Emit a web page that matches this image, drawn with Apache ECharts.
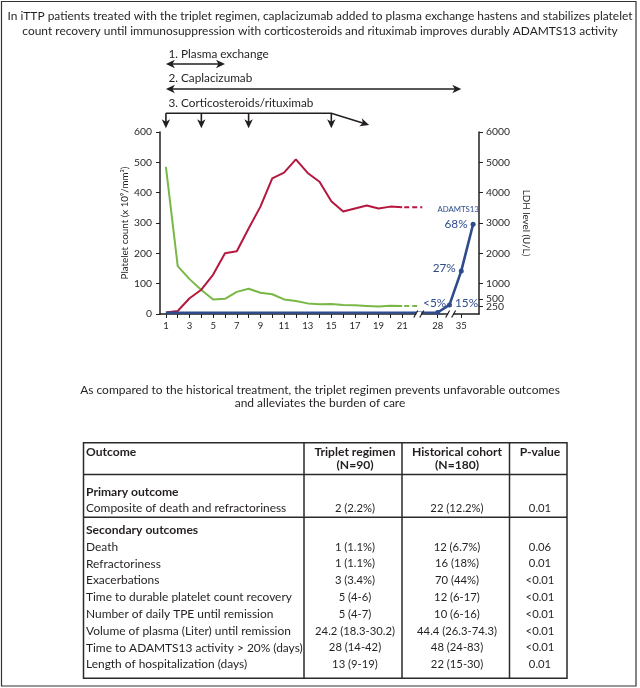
<!DOCTYPE html>
<html><head><meta charset="utf-8">
<script src="https://cdn.jsdelivr.net/npm/echarts@6/dist/echarts.min.js"></script>
<style>html,body{margin:0;padding:0;background:#fff}#c{width:640px;height:688px}</style>
</head><body><div id="c"></div>
<script>
// ---------------- data ----------------
const titleLines = [
  'In iTTP patients treated with the triplet regimen, caplacizumab added to plasma exchange hastens and stabilizes platelet',
  'count recovery until immunosuppression with corticosteroids and rituximab improves durably ADAMTS13 activity'
];
const subtitleLines = [
  'As compared to the historical treatment, the triplet regimen prevents unfavorable outcomes',
  'and alleviates the burden of care'
];
const days = [1,2,3,4,5,6,7,8,9,10,11,12,13,14,15,16,17,18,19,20,21];
const platelets = [5,10,52,80,130,200,207,282,354,447,466,510,465,436,372,338,348,358,348,354,352];
const ldh = [4850,1580,1150,790,480,500,730,830,700,650,480,430,350,320,330,300,285,265,245,270,265];
const xLabelDays = [1,3,5,7,9,11,13,15,17,19,21];
const lateTickLabels = ['28','35'];
const lateTickPos = [24,26];
const breakPos = [22.4,25.1];
const dashEnd = [22.7,22.3];          // end of dashed continuation (platelets, LDH)
const adamtsBase = 4;
const adamtsPos = [24,25,26,27];
const adamtsVals = [5,30,142,296];
const adamtsLabels = ['<5%','15%','27%','68%'];
const leftTicks = [0,100,200,300,400,500,600];
const rightTicks = [250,500,1000,2000,3000,4000,5000,6000];
const treatLabels = ['1. Plasma exchange','2. Caplacizumab','3. Corticosteroids/rituximab'];
const treatFrom = [1,1,1];
const treatTo = [6,26,15];
const steroidDoses = [1,4,8,15];
const steroidTaperTo = 18.2;
const tableHead = ['Outcome','Triplet regimen','Historical cohort','P-value'];
const tableHeadSub = ['','(N=90)','(N=180)',''];
const sectionTitles = ['Primary outcome','Secondary outcomes'];
const primaryRows = [['Composite of death and refractoriness','2 (2.2%)','22 (12.2%)','0.01']];
const secondaryRows = [
  ['Death','1 (1.1%)','12 (6.7%)','0.06'],
  ['Refractoriness','1 (1.1%)','16 (18%)','0.01'],
  ['Exacerbations','3 (3.4%)','70 (44%)','<0.01'],
  ['Time to durable platelet count recovery','5 (4-6)','12 (6-17)','<0.01'],
  ['Number of daily TPE until remission','5 (4-7)','10 (6-16)','<0.01'],
  ['Volume of plasma (Liter) until remission','24.2 (18.3-30.2)','44.4 (26.3-74.3)','<0.01'],
  ['Time to ADAMTS13 activity > 20% (days)','28 (14-42)','48 (24-83)','<0.01'],
  ['Length of hospitalization (days)','13 (9-19)','22 (15-30)','0.01']
];

// ---------------- style ----------------
const FONT = "Lato, 'DejaVu Sans', sans-serif";
const RED = '#b5173f', GREEN = '#79b846', BLUE = '#2e4c8b', INK = '#231f20';
const mctx = document.createElement('canvas').getContext('2d');
function fit(text, target, weight) {
  mctx.font = (weight || 'normal') + ' 100px Lato';
  return +(100 * target / mctx.measureText(text).width).toFixed(2);
}
const fsTitle = fit(titleLines[0], 625);
const fsSub = fit(subtitleLines[0], 480);
const fsArrow = fit(treatLabels[2], 145);
const fsBody = fit(secondaryRows[3][0], 206);
const fsVal = fit(secondaryRows[5][2], 80);
const fsHead = fit(tableHead[2], 90, 'bold');
const fsAxis = fit('6000', 24);
const fsName = fit('Platelet count (x 10⁹/mm³)', 113);

const xLabelMap = {};
xLabelDays.forEach(d => xLabelMap[d] = String(d));
lateTickPos.forEach((p, i) => xLabelMap[p] = lateTickLabels[i]);

// right axis ticks are split over two overlaid axes so that the tightly packed 250/500 labels both show
const rightMain = rightTicks.filter(v => v !== 500);
const rightExtra = rightTicks.filter(v => v === 500);
const rightAxisBase = {
  type: 'value', min: 0, max: 6000, position: 'right',
  axisLine: {show: true, lineStyle: {color: INK, width: 1.5}},
  axisTick: {show: true, length: 4, lineStyle: {color: INK}},
  axisLabel: {formatter: v => String(v), showMinLabel: true, showMaxLabel: true,
    fontFamily: FONT, fontSize: fsAxis, color: INK, margin: 7, hideOverlap: false},
  splitLine: {show: false}
};

const chart = echarts.init(document.getElementById('c'));
chart.setOption({
  animation: false,
  grid: {left: 160, top: 132, width: 319, height: 182},
  xAxis: {
    type: 'value', min: 0.5, max: 27.5,
    axisLine: {show: true, lineStyle: {color: INK, width: 1.5}},
    axisTick: {show: true, length: 4, lineStyle: {color: INK, width: 1}, customValues: days.concat(lateTickPos)},
    axisLabel: {customValues: xLabelDays.concat(lateTickPos), formatter: v => xLabelMap[v] || '',
      fontFamily: FONT, fontSize: fsAxis * 0.92, color: INK, margin: 7},
    splitLine: {show: false}
  },
  yAxis: [{
    type: 'value', min: 0, max: 600, interval: 100, position: 'left',
    name: 'Platelet count (x 10⁹/mm³)', nameLocation: 'middle', nameGap: 30,
    nameTextStyle: {fontFamily: FONT, fontSize: fsName, color: INK},
    axisLine: {show: true, lineStyle: {color: INK, width: 1.5}},
    axisTick: {show: true, length: 4, lineStyle: {color: INK}},
    axisLabel: {fontFamily: FONT, fontSize: fsAxis, color: INK, margin: 8},
    splitLine: {show: false}
  }, Object.assign({}, rightAxisBase, {
    name: 'LDH level (U/L)', nameLocation: 'middle', nameGap: 42, nameRotate: -90,
    nameTextStyle: {fontFamily: FONT, fontSize: fsName, color: INK},
    axisTick: Object.assign({}, rightAxisBase.axisTick, {customValues: rightMain}),
    axisLabel: Object.assign({}, rightAxisBase.axisLabel, {customValues: rightMain})
  }), Object.assign({}, rightAxisBase, {
    axisLine: {show: false},
    axisTick: Object.assign({}, rightAxisBase.axisTick, {customValues: rightExtra}),
    axisLabel: Object.assign({}, rightAxisBase.axisLabel, {customValues: rightExtra})
  })],
  series: [
    {type: 'line', yAxisIndex: 0, showSymbol: false, lineStyle: {color: RED, width: 2}, z: 4,
     data: days.map((d, i) => d === 20
       ? {value: [d, platelets[i]], label: {show: true, formatter: 'Platelets', position: 'top', distance: 3,
          color: RED, fontFamily: FONT, fontSize: 8.8}}
       : [d, platelets[i]])},
    {type: 'line', yAxisIndex: 0, showSymbol: false, lineStyle: {color: RED, width: 2, type: [5, 3], dashOffset: -2},
     data: [[days[days.length - 1], platelets[platelets.length - 1]], [dashEnd[0], platelets[platelets.length - 1]]]},
    {type: 'line', yAxisIndex: 1, showSymbol: false, lineStyle: {color: GREEN, width: 2}, z: 3,
     data: days.map((d, i) => d === 20
       ? {value: [d, ldh[i]], label: {show: true, formatter: 'LDH', position: 'top', distance: 5,
          color: GREEN, fontFamily: FONT, fontSize: 8.8}}
       : [d, ldh[i]])},
    {type: 'line', yAxisIndex: 1, showSymbol: false, lineStyle: {color: GREEN, width: 2, type: [5, 3], dashOffset: -2},
     data: [[days[days.length - 1], ldh[ldh.length - 1]], [dashEnd[1], ldh[ldh.length - 1]]]},
    {type: 'line', yAxisIndex: 0, symbol: 'circle', symbolSize: 5, lineStyle: {color: BLUE, width: 2.6},
     itemStyle: {color: BLUE}, z: 5,
     data: [{value: [days[0], adamtsBase], symbol: 'none'}].concat(adamtsPos.map((p, i) => ({
       value: [p, adamtsVals[i]],
       label: {show: true, formatter: adamtsLabels[i], color: BLUE, fontFamily: FONT, fontSize: 11.8,
         position: ['top', 'right', 'left', 'left'][i], distance: 3,
         offset: [[-3, 2], [0, -2], [0, -3], [0, 0]][i]}
     })))}
  ]
});

// ---------------- annotations ----------------
const px = v => chart.convertToPixel({xAxisIndex: 0}, v);
const pyL = v => chart.convertToPixel({yAxisIndex: 0}, v);
const g = [];
function line(x1, y1, x2, y2, w, c) {
  g.push({type: 'line', shape: {x1, y1, x2, y2}, style: {stroke: c || INK, lineWidth: w || 1.6}, z: 100});
}
function head(tx, ty, dx, dy, len, w) {
  len = len || 9; w = w || 4.2;
  const bx = tx - dx * len, by = ty - dy * len, nx = -dy, ny = dx;
  const mx = tx - dx * len * 0.72, my = ty - dy * len * 0.72;
  g.push({type: 'polygon', shape: {points: [[tx, ty], [bx + nx * w, by + ny * w], [mx, my], [bx - nx * w, by - ny * w]]},
    style: {fill: INK}, z: 100});
}
function text(t, x, y, o) {
  o = o || {};
  g.push({type: 'text', x, y, z: 100, style: {text: t, fontFamily: FONT, fontSize: o.size || 12,
    fontWeight: o.weight || 'normal', fill: o.color || INK, align: o.align || 'left', verticalAlign: 'middle'}});
}
// frame
g.push({type: 'rect', shape: {x: 1.5, y: 1.5, width: 634.5, height: 684.5}, style: {fill: 'none', stroke: '#333', lineWidth: 1.2}, z: 90});
// titles
text(titleLines[0], 320, 16, {size: fsTitle, align: 'center'});
text(titleLines[1], 320, 31, {size: fsTitle, align: 'center'});
text(subtitleLines[0], 320, 390, {size: fsSub, align: 'center'});
text(subtitleLines[1], 320, 403.5, {size: fsSub, align: 'center'});
// treatment arrows
const labelY = [54, 78.3, 103.3], arrowY = [64, 89, 113.3];
for (let i = 0; i < 2; i++) {
  const a = px(treatFrom[i]), b = px(treatTo[i]), y = arrowY[i];
  line(a + 5, y, b - 5, y);
  head(a, y, -1, 0);
  head(b, y, 1, 0);
}
treatLabels.forEach((t, i) => text(t, px(treatFrom[i]) + 2.5, labelY[i], {size: fsArrow}));
{
  const y = arrowY[2], xa = px(treatFrom[2]), xb = px(treatTo[2]), xc = px(steroidTaperTo), yc = 125;
  g.push({type: 'polyline', shape: {points: [[xa, y], [xb, y], [xc - 4, yc - 1.2]]}, style: {stroke: INK, lineWidth: 1.6, fill: 'none'}, z: 100});
  const L = Math.hypot(xc - xb, yc - y);
  head(xc, yc, (xc - xb) / L, (yc - y) / L);
  steroidDoses.forEach(d => {
    const x = px(d);
    line(x, y, x, 122);
    head(x, 128.3, 0, 1);
  });
}
// axis breaks
const y0 = pyL(0);
breakPos.forEach(p => {
  const x = px(p);
  g.push({type: 'rect', shape: {x: x - 2.5, y: y0 - 2, width: 5, height: 4}, style: {fill: '#fff'}, z: 99});
  line(x - 5, y0 + 3.5, x - 1, y0 - 3.5, 1.2);
  line(x + 1, y0 + 3.5, x + 5, y0 - 3.5, 1.2);
});
// ADAMTS13 name
{
  const last = adamtsPos.length - 1;
  const [ax, ay] = chart.convertToPixel({xAxisIndex: 0, yAxisIndex: 0}, [adamtsPos[last], adamtsVals[last]]);
  text('ADAMTS13', ax - 15, ay - 15, {size: 7.8, color: BLUE, align: 'center'});
}
// table
const T = {x0: 83.5, x1: 567, y0: 442.7, y1: 678.3, cols: [83.5, 304, 402, 509.5, 567]};
const colCenter = [0, 355, 457, 540];
g.push({type: 'rect', shape: {x: T.x0, y: T.y0, width: T.x1 - T.x0, height: T.y1 - T.y0}, style: {fill: 'none', stroke: '#2a2a2a', lineWidth: 1.5}, z: 95});
[1, 2, 3].forEach(i => line(T.cols[i], T.y0, T.cols[i], T.y1, 1.5, '#2a2a2a'));
line(T.x0, 474.5, T.x1, 474.5, 1.5, '#2a2a2a');
line(T.x0, 517.3, T.x1, 517.3, 1.5, '#2a2a2a');
const TX = 86;
tableHead.forEach((h, i) => {
  if (i === 0) text(h, TX, 452, {size: fsHead, weight: 'bold'});
  else text(h, colCenter[i], 452, {size: fsHead, weight: 'bold', align: 'center'});
  if (tableHeadSub[i]) text(tableHeadSub[i], colCenter[i], 465.5, {size: fsHead, weight: 'bold', align: 'center'});
});
function row(r, y) {
  text(r[0], TX, y, {size: fsBody});
  for (let i = 1; i < 4; i++) text(r[i], colCenter[i], y, {size: fsVal, align: 'center'});
}
text(sectionTitles[0], TX, 491.7, {size: fsHead, weight: 'bold'});
primaryRows.forEach((r, i) => row(r, 508.3 + i * 16.8));
text(sectionTitles[1], TX, 530, {size: fsHead, weight: 'bold'});
secondaryRows.forEach((r, i) => row(r, 547 + i * 16.8));

chart.setOption({graphic: {elements: g}});
</script>
</body></html>
